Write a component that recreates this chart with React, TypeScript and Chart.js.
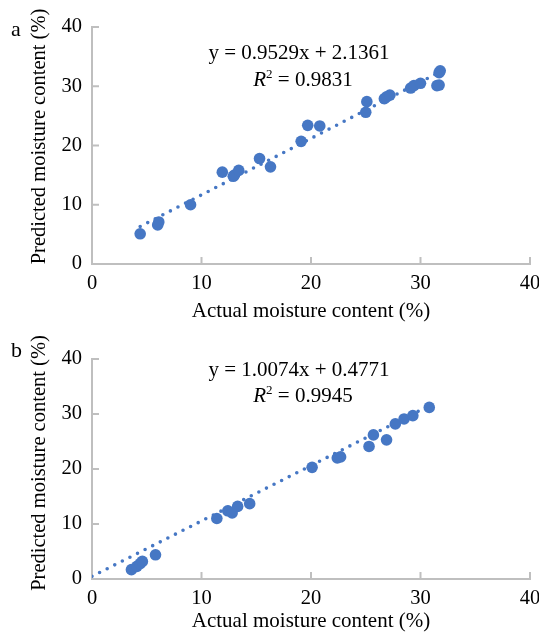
import React, { useEffect, useRef } from "react";
import { Chart, registerables } from "chart.js";

Chart.register(...registerables);

// ---------- data ----------
const axisTicks = [0, 10, 20, 30, 40];

const actualA = [4.4, 6.0, 6.1, 9.0, 11.9, 12.9, 13.0, 13.4, 15.3, 16.3, 19.1, 19.7, 20.8, 25.0, 25.1, 26.7, 26.9, 27.2, 29.1, 29.4, 30.0, 31.5, 31.7, 31.7, 31.8];
const predictedA = [5.1, 6.6, 7.1, 10.0, 15.5, 14.8, 15.0, 15.8, 17.8, 16.4, 20.7, 23.4, 23.3, 25.6, 27.4, 27.9, 28.2, 28.5, 29.7, 30.1, 30.5, 30.1, 30.2, 32.3, 32.6];
const trendAX = [4.4, 31.8];
const trendAY = [6.33, 32.44];

const actualB = [3.6, 4.1, 4.4, 4.6, 5.8, 11.4, 12.4, 12.8, 13.3, 14.4, 20.1, 22.4, 22.7, 25.3, 25.7, 26.9, 27.7, 28.5, 29.3, 30.8];
const predictedB = [1.7, 2.3, 2.8, 3.2, 4.4, 11.0, 12.4, 12.0, 13.2, 13.7, 20.3, 22.0, 22.2, 24.1, 26.2, 25.3, 28.2, 29.1, 29.7, 31.2];
const trendBX = [0, 30.8];
const trendBY = [0.48, 31.5];

const panelLabels = ["a", "b"];
const equations = ["y = 0.9529x + 2.1361", "y = 1.0074x + 0.4771"];
const r2Values = ["0.9831", "0.9945"];
const xTitle = "Actual moisture content (%)";
const yTitle = "Predicted moisture content (%)";

// ---------- style ----------
const BLUE = "#4677c4";
const AXIS = "#bfbfbf";
const SERIF = '"Liberation Serif", "Times New Roman", serif';

type Layout = {
  top: number;
  height: number;
  padTop: number;
  xAxisH: number;
  eqX: number;
  eqY: number;
  r2X: number;
  r2Y: number;
  xTitleY: number;
  yTitleX: number;
  yTitleC: number;
  labelY: number;
};

const layouts: Layout[] = [
  { top: 0, height: 335, padTop: 27, xAxisH: 71, eqX: 299, eqY: 59, r2X: 303, r2Y: 85.7, xTitleY: 317.3, yTitleX: 45, yTitleC: 136.5, labelY: 36 },
  { top: 335, height: 300, padTop: 24, xAxisH: 56, eqX: 299, eqY: 40.7, r2X: 303, r2Y: 67.3, xTitleY: 292, yTitleX: 45, yTitleC: 128, labelY: 22 },
];

function makeOverlay(idx: number) {
  const L = layouts[idx];
  return {
    id: "overlay" + idx,
    beforeDatasetsDraw(chart: any) {
      const { ctx, chartArea, scales } = chart;
      ctx.save();
      ctx.strokeStyle = AXIS;
      ctx.lineWidth = 2;
      axisTicks.forEach((v) => {
        const x = scales.x.getPixelForValue(v);
        ctx.beginPath();
        ctx.moveTo(x, chartArea.bottom);
        ctx.lineTo(x, chartArea.bottom - 7);
        ctx.stroke();
        const y = scales.y.getPixelForValue(v);
        ctx.beginPath();
        ctx.moveTo(chartArea.left, y);
        ctx.lineTo(chartArea.left + 7, y);
        ctx.stroke();
      });
      ctx.restore();
    },
    afterDraw(chart: any) {
      const { ctx } = chart;
      ctx.save();
      ctx.fillStyle = "#000";
      ctx.textBaseline = "alphabetic";
      // panel label
      ctx.font = `22px ${SERIF}`;
      ctx.textAlign = "left";
      ctx.fillText(panelLabels[idx], 11, L.labelY);
      // equation
      ctx.font = `21px ${SERIF}`;
      ctx.textAlign = "center";
      ctx.fillText(equations[idx], L.eqX, L.eqY);
      // R^2 line
      const italic = `italic 21px ${SERIF}`;
      const regular = `21px ${SERIF}`;
      const sup = `13px ${SERIF}`;
      const rest = " = " + r2Values[idx];
      ctx.font = italic;
      const wR = ctx.measureText("R").width;
      ctx.font = sup;
      const w2 = ctx.measureText("2").width;
      ctx.font = regular;
      const wRest = ctx.measureText(rest).width;
      let x0 = L.r2X - (wR + w2 + wRest) / 2;
      ctx.textAlign = "left";
      ctx.font = italic;
      ctx.fillText("R", x0, L.r2Y);
      x0 += wR;
      ctx.font = sup;
      ctx.fillText("2", x0, L.r2Y - 8);
      x0 += w2;
      ctx.font = regular;
      ctx.fillText(rest, x0, L.r2Y);
      // x title
      ctx.font = `21px ${SERIF}`;
      ctx.textAlign = "center";
      const ca = chart.chartArea;
      ctx.fillText(xTitle, (ca.left + ca.right) / 2, L.xTitleY);
      // y title
      ctx.font = `20.5px ${SERIF}`;
      ctx.translate(L.yTitleX, L.yTitleC);
      ctx.rotate(-Math.PI / 2);
      ctx.fillText(yTitle, 0, 0);
      ctx.restore();
    },
  };
}

function buildConfig(idx: number): any {
  const L = layouts[idx];
  const xs = idx === 0 ? actualA : actualB;
  const ys = idx === 0 ? predictedA : predictedB;
  const tx = idx === 0 ? trendAX : trendBX;
  const ty = idx === 0 ? trendAY : trendBY;
  const tickFont = { family: SERIF, size: 20.5 };
  return {
    type: "scatter",
    data: {
      datasets: [
        {
          label: "points",
          data: xs.map((x, i) => ({ x, y: ys[i] })),
          backgroundColor: BLUE,
          borderColor: BLUE,
          borderWidth: 0,
          pointRadius: 5.8,
          pointHoverRadius: 5.8,
        },
        {
          label: "trend",
          data: tx.map((x, i) => ({ x, y: ty[i] })),
          showLine: true,
          borderColor: BLUE,
          borderWidth: 3.6,
          borderDash: [0, 8.5],
          borderCapStyle: "round",
          pointRadius: 0,
          fill: false,
        },
      ],
    },
    options: {
      responsive: false,
      animation: false,
      layout: { padding: { left: 0, right: 9, top: L.padTop, bottom: 0 } },
      plugins: { legend: { display: false }, tooltip: { enabled: false } },
      scales: {
        x: {
          type: "linear",
          min: 0,
          max: 40,
          ticks: { stepSize: 10, color: "#000", font: tickFont, padding: 7, maxRotation: 0 },
          grid: { display: false, drawTicks: false },
          border: { display: true, color: AXIS, width: 2 },
          afterFit: (s: any) => {
            s.height = L.xAxisH;
            s.paddingLeft = 0;
            s.paddingRight = 0;
          },
        },
        y: {
          type: "linear",
          min: 0,
          max: 40,
          ticks: { stepSize: 10, color: "#000", font: tickFont, padding: 10 },
          grid: { display: false, drawTicks: false },
          border: { display: true, color: AXIS, width: 2 },
          afterFit: (s: any) => {
            s.width = 92;
            s.paddingTop = 0;
            s.paddingBottom = 0;
          },
        },
      },
    },
    plugins: [makeOverlay(idx)],
  };
}

function Panel({ idx }: { idx: number }) {
  const ref = useRef<HTMLCanvasElement | null>(null);
  const L = layouts[idx];
  useEffect(() => {
    if (!ref.current) return;
    const chart = new Chart(ref.current, buildConfig(idx));
    return () => chart.destroy();
  }, [idx]);
  return (
    <canvas
      ref={ref}
      width={539}
      height={L.height}
      style={{ position: "absolute", left: 0, top: L.top, width: 539, height: L.height }}
    />
  );
}

export default function App() {
  return (
    <div style={{ position: "fixed", left: 0, top: 0, width: 539, height: 635, background: "#fff", overflow: "hidden" }}>
      <Panel idx={0} />
      <Panel idx={1} />
    </div>
  );
}
